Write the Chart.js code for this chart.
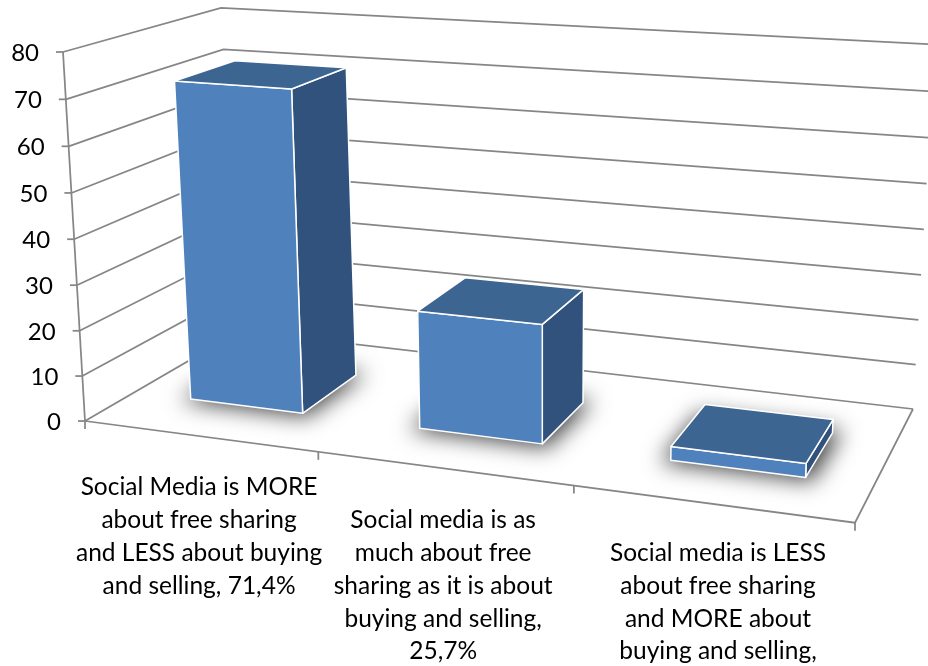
<!DOCTYPE html>
<html>
<head>
<meta charset="utf-8">
<script src="https://cdn.jsdelivr.net/npm/chart.js@4/dist/chart.umd.min.js"></script>
<style>
html,body{margin:0;padding:0;background:#fff;overflow:hidden}
canvas{display:block}
</style>
</head>
<body>
<canvas id="Plot" width="928" height="666"></canvas>
<script>
var categories = [
  ["Social Media is MORE", "about free sharing", "and LESS about buying", "and selling, 71,4%"],
  ["Social media is as", "much about free", "sharing as it is about", "buying and selling,", "25,7%"],
  ["Social media is LESS", "about free sharing", "and MORE about", "buying and selling,", "2,9%"]
];
var values = [71.4, 25.7, 2.9];
var yMax = 80;
var yStep = 10;

// where the 3D box lands on the picture, [x,y]; f/b = front/back, B/T = bottom/top, L/R = left/right
var fBL = [85, 421], fTL = [63, 52], fBR = [855, 522.7], fTR = [870, 106];
var bBL = [240, 331], bTL = [221, 8], bBR = [913, 409], bTR = [935, 44.5];
var barFront = 0.32, barBack = 0.72;
var barNudge = 2;
var labelNudge = [0, 0, 7];
var axisColor = "#868686";
var faceTop = "#3d6592", faceSide = "#31527d";
var textFont = "Lato, sans-serif";

function mix(a, b, k) {
  return [a[0] + (b[0] - a[0]) * k, a[1] + (b[1] - a[1]) * k];
}
function warp(t, r) {
  return t / (t + r * (1 - t));
}
// t along the category axis, val up the value axis, d into the depth, all 0..1
function project(t, val, d) {
  var u = warp(t, 1.15), v = warp(val, 1.03);
  var front = mix(mix(fBL, fBR, u), mix(fTL, fTR, u), v);
  var back = mix(mix(bBL, bBR, u), mix(bTL, bTR, u), v);
  return mix(front, back, d);
}
function barPoint(t, val, d) {
  var p = project(t, val, d);
  return [p[0] + barNudge, p[1]];
}
function poly(c, pts) {
  c.beginPath();
  c.moveTo(pts[0][0], pts[0][1]);
  for (var i = 1; i < pts.length; i++) c.lineTo(pts[i][0], pts[i][1]);
  c.closePath();
}
function segs(c, pts) {
  c.beginPath();
  c.moveTo(pts[0][0], pts[0][1]);
  for (var i = 1; i < pts.length; i++) c.lineTo(pts[i][0], pts[i][1]);
  c.stroke();
}

var box3d = {
  id: "box3d",
  beforeDatasetsDraw: function (chart) {
    var c = chart.ctx, a = chart.chartArea, ys = chart.scales.y, xs = chart.scales.x;
    var H = a.bottom - a.top;
    c.save();
    c.strokeStyle = axisColor;
    c.lineWidth = 1.75;
    c.fillStyle = "#000";
    c.font = "24px " + textFont;
    c.textAlign = "right";
    c.textBaseline = "middle";
    ys.ticks.forEach(function (tk) {
      var val = (a.bottom - ys.getPixelForValue(tk.value)) / H;
      var p = project(0, val, 0);
      segs(c, [p, project(0, val, 1), project(1, val, 1)]);
      segs(c, [[p[0] - 7, p[1]], p]);
      c.fillText(tk.label, p[0] - 24, p[1] + 1);
    });
    segs(c, [project(0, 0, 0), project(0, 1, 0)]);
    segs(c, [project(0, 0, 0), project(1, 0, 0), project(1, 0, 1)]);
    for (var k = 0; k <= xs.ticks.length; k++) {
      var q = project(k / xs.ticks.length, 0, 0);
      segs(c, [q, [q[0], q[1] + 8]]);
    }
    // category labels follow the slanted floor edge, one text row lower each
    c.font = "24.5px " + textFont;
    c.textAlign = "center";
    xs.ticks.forEach(function (tk, i) {
      var t = (xs.getPixelForTick(i) - a.left) / (a.right - a.left);
      var px = project(t, 0, 0)[0] + labelNudge[i];
      tk.label.forEach(function (line, j) {
        c.fillText(line, px, 487.5 + 32.8 * (i + j));
      });
    });
    c.restore();
  },
  beforeDatasetDraw: function (chart, args) {
    var c = chart.ctx, a = chart.chartArea;
    var W = a.right - a.left, H = a.bottom - a.top;
    args.meta.data.forEach(function (bar) {
      var t0 = (bar.x - bar.width / 2 - a.left) / W;
      var t1 = (bar.x + bar.width / 2 - a.left) / W;
      var val = (a.bottom - bar.y) / H;
      var fl0 = barPoint(t0, 0, barFront), fr0 = barPoint(t1, 0, barFront);
      var bl0 = barPoint(t0, 0, barBack), br0 = barPoint(t1, 0, barBack);
      var fl1 = barPoint(t0, val, barFront), fr1 = barPoint(t1, val, barFront);
      var bl1 = barPoint(t0, val, barBack), br1 = barPoint(t1, val, barBack);
      // soft shadow on the floor, only the blur shows, the shape sits off canvas
      var sh = [
        barPoint(t0 - 0.01, 0, barFront - 0.025), barPoint(t1 + 0.01, 0, barFront - 0.025),
        barPoint(t1 + 0.01, 0, barBack + 0.025), barPoint(t0 - 0.01, 0, barBack + 0.025)
      ].map(function (p) { return [p[0] - 2000, p[1]]; });
      c.save();
      c.shadowColor = "rgba(0,0,0,0.75)";
      c.shadowBlur = 22;
      c.shadowOffsetX = 2000;
      c.fillStyle = "#000";
      poly(c, sh);
      c.fill();
      c.restore();
      c.save();
      c.strokeStyle = "#fff";
      c.lineWidth = 1.5;
      c.lineJoin = "round";
      c.fillStyle = faceSide;
      poly(c, [fr0, br0, br1, fr1]);
      c.fill();
      c.stroke();
      c.fillStyle = bar.options.backgroundColor;
      poly(c, [fl0, fr0, fr1, fl1]);
      c.fill();
      c.stroke();
      c.fillStyle = faceTop;
      poly(c, [fl1, fr1, br1, bl1]);
      c.fill();
      c.stroke();
      c.restore();
    });
    return false;
  }
};

new Chart(document.getElementById("Plot").getContext("2d"), {
  type: "bar",
  data: {
    labels: categories,
    datasets: [{
      data: values,
      backgroundColor: "#4f81bd",
      categoryPercentage: 1,
      barPercentage: 0.5
    }]
  },
  options: {
    responsive: false,
    animation: false,
    layout: { padding: { left: 85, right: 73, top: 52, bottom: 245 } },
    plugins: { legend: { display: false }, tooltip: { enabled: false }, title: { display: false } },
    scales: {
      x: { display: false },
      y: { display: false, min: 0, max: yMax, ticks: { stepSize: yStep } }
    }
  },
  plugins: [box3d]
});
</script>
</body>
</html>
